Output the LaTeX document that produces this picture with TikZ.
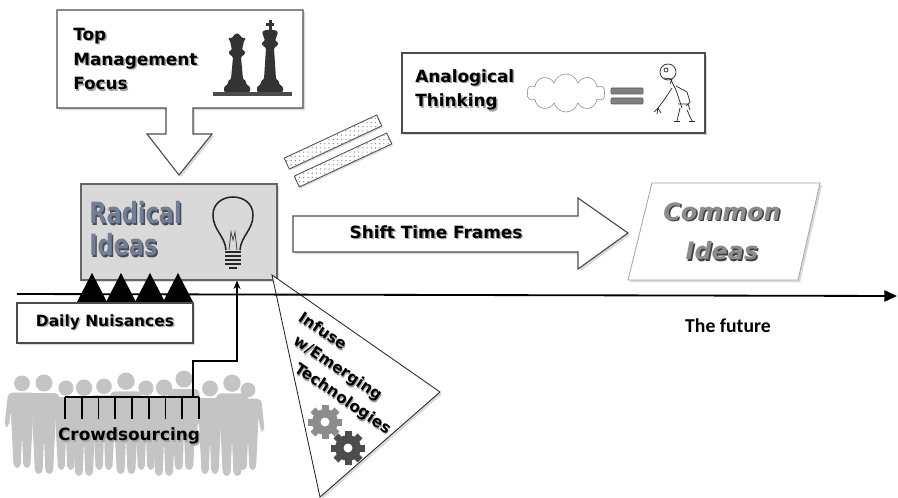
\documentclass[tikz,border=0pt]{standalone}
\usepackage{fontspec}
\setmainfont{DejaVu Sans}
\newfontfamily\futurefont{Carlito}
\usetikzlibrary{fit,shapes.symbols,shadows,patterns,arrows.meta}

% bold label with a soft shadow behind it
\newcommand{\shd}[2][black!35]{\leavevmode\rlap{\kern1pt\raisebox{-1pt}{\textcolor{#1}{#2}}}#2}

\begin{document}
\begin{tikzpicture}[x=0.025cm, y=-0.025cm,
		frame/.style={draw=black!70, line width=0.8pt, fill=white, drop shadow={shadow xshift=1.5pt, shadow yshift=-1.5pt, opacity=0.3}},
		boxfit/.style={frame, inner sep=0pt},
		txt/.style={font=\bfseries\fontsize{12}{17.5}\selectfont, align=left, inner sep=0pt},
		slanted/.style={txt, font=\bfseries\fontsize{11}{13}\selectfont, rotate=-34, anchor=west},
		bar/.style={draw=black!70, line width=0.6pt, fill=white, postaction={pattern=dots, pattern color=black!45}, drop shadow={shadow xshift=1pt, shadow yshift=-1pt, opacity=0.3}},
		person/.pic={
			\fill (0,-91) circle (8.5);
			\fill[rounded corners=3pt] (-15,-81) -- (15,-81) -- (19,-44) -- (14,-44) -- (12,-62) -- (11,-40) -- (9,0) -- (1.5,0) -- (0,-36) -- (-1.5,0) -- (-9,0) -- (-11,-40) -- (-12,-62) -- (-14,-44) -- (-19,-44) -- cycle;
		},
		gear/.pic={
			\foreach \a in {0,45,...,315}
				\fill[rotate=\a] (-3.5,0) rectangle (3.5,17);
			\fill (0,0) circle (13);
			\fill[white] (0,0) circle (4.5);
		},
		piece/.pic={
			\fill[rounded corners=0.8pt] (-13,0) -- (13,0) -- (13,-5) -- (9,-8) -- (9,-11) -- (6,-13) -- (4,-35) -- (8,-38) -- (8,-41) -- (5,-42) -- (7,-51) -- (9,-54) -- (5,-54) -- (3,-57) -- (0,-59) -- (-3,-57) -- (-5,-54) -- (-9,-54) -- (-7,-51) -- (-5,-42) -- (-8,-41) -- (-8,-38) -- (-4,-35) -- (-6,-13) -- (-9,-11) -- (-9,-8) -- (-13,-5) -- cycle;
		}
	]
	\useasboundingbox (0,0) rectangle (898,498);

	% crowd in the background
	\foreach \xx/\yy/\s in {22/468/0.93, 44/474/1.0, 66/470/0.9, 84/476/0.97, 104/470/0.92, 126/474/1.02, 146/470/0.9, 164/476/0.97, 184/470/1.0, 210/474/0.94, 232/476/1.02, 248/470/0.88}
		\pic[black!23, scale=\s] at (\xx,\yy) {person};

	% top management callout
	\path[frame] (57,10) -- (303,10) -- (303,108) -- (193,108) -- (193,134) -- (212,134) -- (179,175) -- (147,134) -- (166,134) -- (166,108) -- (57,108) -- cycle;
	\node[txt, anchor=north west] (top) at (73,28) {\shd{Top}\\\shd{Management}\\\shd{Focus}};
	\fill[black!70] (213,92) rectangle (292,96);
	\pic[black!80] at (237,92) {piece};
	\begin{scope}[shift={(270,92)}, black!80]
		\fill[rounded corners=0.8pt] (-13,0) -- (13,0) -- (13,-5) -- (9,-8) -- (9,-11) -- (6,-13) -- (4,-44) -- (8,-47) -- (8,-50) -- (5,-51) -- (8,-60) -- (5,-62) -- (-5,-62) -- (-8,-60) -- (-5,-51) -- (-8,-50) -- (-8,-47) -- (-4,-44) -- (-6,-13) -- (-9,-11) -- (-9,-8) -- (-13,-5) -- cycle;
		\fill (-1.5,-62) rectangle (1.5,-72);
		\fill (-4,-66) rectangle (4,-68.5);
	\end{scope}

	% analogical thinking
	\node[boxfit, fit={(402,53) (705,133)}] (analog) {};
	\node[txt, anchor=north west] (analogtxt) at (415,69) {\shd{Analogical}\\\shd{Thinking}};
	\node[cloud, cloud puffs=10, aspect=2.2, draw=black!45, fill=white, minimum width=1.95cm, minimum height=0.95cm, inner sep=0pt] (cloud) at (566,93) {};
	\fill[black!50, draw=black!65, rounded corners=0.5pt] (611,88) rectangle (643,94);
	\fill[black!50, draw=black!65, rounded corners=0.5pt] (611,98) rectangle (643,104);
	\begin{scope}[black!85, line width=0.5pt, line join=round]
		\draw (668,72) circle (8);
		\draw (666,70) circle (2);
		\draw (664,78) -- (672,79) -- (670,84);
		\draw (671,80) -- (676,90) -- (682,108);
		\draw (676,86) -- (687,92) -- (690,102) -- (686,106);
		\draw (672,88) -- (664,100) -- (658,108);
		\draw (658,108) -- (654,112) (658,108) -- (657,114) (658,108) -- (661,113);
		\draw (678,104) -- (688,104) -- (690,110);
		\draw (680,108) -- (677,121) (687,110) -- (692,121);
		\draw (674,121) -- (680,121) (689,121) -- (695,121);
	\end{scope}

	% the two dotted bars
	\begin{scope}[shift={(333,142)}, rotate=25]
		\path[bar] (-51,-6) rectangle (51,6);
	\end{scope}
	\begin{scope}[shift={(343,160)}, rotate=25]
		\path[bar] (-51,-6) rectangle (51,6);
	\end{scope}

	% radical ideas
	\node[boxfit, fill=black!15, draw=black!60, fit={(81,184) (277,280)}] (radical) {};
	\node[txt, font=\bfseries\fontsize{16}{23}\selectfont, text={rgb,255:red,112;green,126;blue,152}, anchor=north west] (radicaltxt) at (89,201) {\scalebox{1}[1.3]{\shd[black!70]{Radical}}\\\scalebox{1}[1.3]{\shd[black!70]{Ideas}}};
	\draw[black!85, line width=1.1pt] (226,250) .. controls (225,236) and (213,230) .. (213,215) .. controls (213,203) and (223,197) .. (233,197) .. controls (243,197) and (253,203) .. (253,215) .. controls (253,230) and (241,236) .. (240,250);
	\draw[black!70, line width=0.6pt] (229,250) -- (231,232) -- (233,240) -- (235,232) -- (237,250);
	\foreach \yy in {252,256,260,264}
		\draw[black!85, line width=1pt] (225,\yy) -- (241,\yy);
	\draw[black!85, line width=1pt] (229,268) -- (237,268);

	% shift time frames
	\path[frame] (293,216) -- (578,216) -- (578,198) -- (628,233) -- (578,269) -- (578,252) -- (293,252) -- cycle;
	\node[txt, anchor=center] (shift) at (436,233) {\shd{Shift Time Frames}};

	% common ideas
	\path[frame, draw=black!35, line width=0.6pt] (652,183) -- (820,183) -- (798,280) -- (628,280) -- cycle;
	\node[txt, font=\bfseries\itshape\fontsize{17}{28}\selectfont, text=black!45, align=center] (common) at (722,232) {\shd[black!75]{Common}\\\shd[black!75]{Ideas}};

	% emerging technologies
	\path[frame, draw=black!85, line width=0.6pt] (272,275) -- (440,392) -- (320,497) -- cycle;
	\node[slanted] (infuse) at (300,316) {\shd{Infuse}};
	\node[slanted] (emerging) at (294,340) {\shd{w/Emerging}};
	\node[slanted] (techno) at (295,368) {\shd{Technologies}};
	\pic[black!45] at (325,422) {gear};
	\pic[black!70] at (348,448) {gear};

	% time line
	\coordinate (start) at (17,294);
	\coordinate (end) at (897,296);
	\draw[line width=1.3pt, -{Triangle[length=9pt, width=8pt]}] (start) -- (end);
	\node[font=\futurefont\bfseries\fontsize{14}{16}\selectfont] (future) at (728,326) {The future};

	% daily nuisances
	\foreach \xx in {92,121,150,178}
		\fill (\xx-15,302) -- (\xx,273) -- (\xx+15,302) -- cycle;
	\node[boxfit, fit={(17,303) (193,343)}] (daily) {};
	\node[txt, font=\bfseries\fontsize{11}{13}\selectfont] (dailytxt) at (daily.center) {\shd{Daily Nuisances}};

	% crowdsourcing
	\draw[line width=1.1pt] (65,397) -- (199,397);
	\foreach \i in {0,...,8}
		\draw[line width=1.1pt] (65+\i*16.75,397) -- ++(0,22);
	\node[txt] (crowd) at (129,437) {\shd{Crowdsourcing}};
	\coordinate (hub) at (193,397);
	\coordinate (bend) at (237,361);
	\draw[line width=1.1pt, -{Stealth[length=6pt, width=5pt]}] (hub) |- (bend) -- (bend |- radical.south);
\end{tikzpicture}
\end{document}
